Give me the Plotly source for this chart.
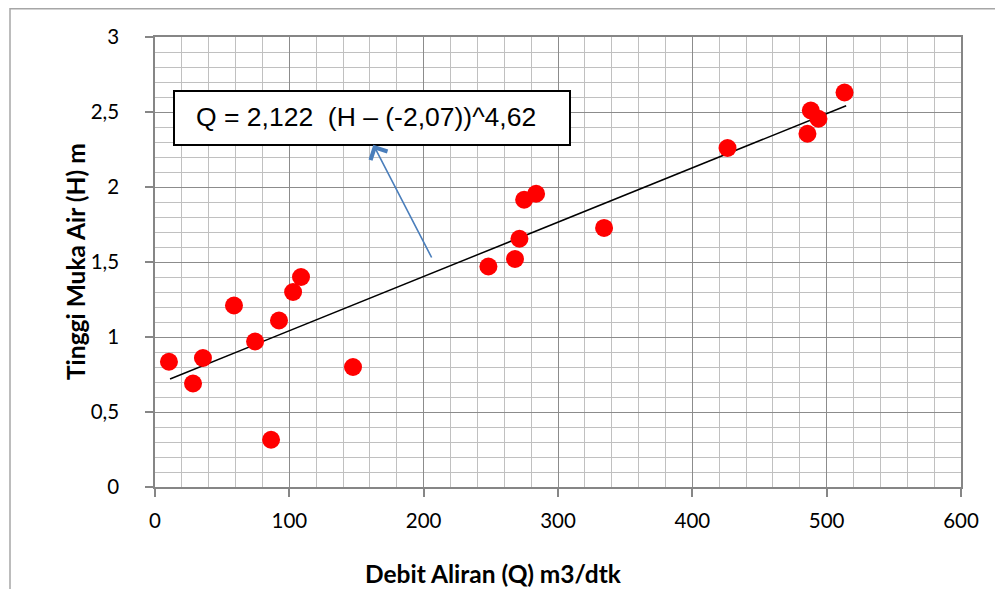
import plotly.graph_objects as go

# Data
debit_q = [10.4, 28.3, 35.7, 58.8, 74.5, 86.4, 92.3, 102.8, 108.7, 147.4,
           248.2, 268.0, 271.3, 274.8, 283.7, 334.3, 426.2, 485.7, 488.2, 493.9, 513.3]
tinggi_h = [0.835, 0.69, 0.86, 1.21, 0.97, 0.315, 1.11, 1.30, 1.40, 0.80,
            1.47, 1.52, 1.655, 1.915, 1.955, 1.727, 2.26, 2.355, 2.51, 2.455, 2.63]

trend_x = [11.2, 514.5]
trend_y = [0.72, 2.542]

x_ticks = [0, 100, 200, 300, 400, 500, 600]
y_ticks = [0, 0.5, 1, 1.5, 2, 2.5, 3]

equation_text = "Q = 2,122  (H – (-2,07))^4,62"
x_title = "Debit Aliran (Q) m3/dtk"
y_title = "Tinggi Muka Air (H) m"

arrow_head = (162.5, 2.282)
arrow_tail = (206.5, 1.52)

fig = go.Figure()
fig.add_trace(go.Scatter(x=trend_x, y=trend_y, mode="lines",
                         line=dict(color="black", width=1.5), showlegend=False,
                         hoverinfo="skip"))
fig.add_trace(go.Scatter(x=debit_q, y=tinggi_h, mode="markers",
                         marker=dict(color="#ff0000", size=18, line=dict(width=0)),
                         showlegend=False))

grid_major = "#8c8c8c"
grid_minor = "#c0c0c0"
axis_col = "#868686"
tick_font = dict(family="Lato", size=20.5, color="black")

fig.update_xaxes(range=[0, 600], tickvals=x_ticks, showgrid=True, gridcolor=grid_major,
                 gridwidth=1, zeroline=False, showline=True, linecolor=axis_col,
                 linewidth=1.5, mirror=True, ticks="outside", ticklen=8,
                 tickcolor=axis_col, tickwidth=1.5, tickfont=tick_font,
                 ticklabelstandoff=7,
                 minor=dict(dtick=20, showgrid=True, gridcolor=grid_minor, gridwidth=1))
fig.update_yaxes(range=[0, 3], tickvals=y_ticks, showgrid=True, gridcolor=grid_major,
                 gridwidth=1, zeroline=False, showline=True, linecolor=axis_col,
                 linewidth=1.5, mirror=True, ticks="outside", ticklen=8,
                 tickcolor=axis_col, tickwidth=1.5, tickfont=tick_font,
                 ticklabelstandoff=22,
                 minor=dict(dtick=0.1, showgrid=True, gridcolor=grid_minor, gridwidth=1))

# equation box
fig.add_shape(type="rect", xref="paper", yref="paper",
              x0=(174 - 155) / 806, x1=(570 - 155) / 806,
              y0=(487 - 145) / 450, y1=(487 - 91) / 450,
              fillcolor="white", line=dict(color="black", width=2), layer="above")
fig.add_annotation(xref="paper", yref="paper", x=(365.5 - 155) / 806, y=(487 - 117) / 450,
                   text=equation_text, showarrow=False, xanchor="center", yanchor="middle",
                   font=dict(family="Liberation Sans", size=26.5, color="black"))
# arrow
fig.add_annotation(x=arrow_head[0], y=arrow_head[1], ax=arrow_tail[0], ay=arrow_tail[1],
                   xref="x", yref="y", axref="x", ayref="y", text="",
                   showarrow=True, arrowhead=4, arrowsize=2.3, arrowwidth=1.6,
                   arrowcolor="#4a7ebb")
# axis titles
fig.add_annotation(xref="paper", yref="paper", x=(493 - 155) / 806, y=(487 - 573) / 450,
                   text="<b>" + x_title + "</b>", showarrow=False,
                   xanchor="center", yanchor="middle",
                   font=dict(family="Lato", size=24.5, color="black"))
fig.add_annotation(xref="paper", yref="paper", x=(75 - 155) / 806, y=0.5,
                   text="<b>" + y_title + "</b>", showarrow=False, textangle=-90,
                   xanchor="center", yanchor="middle",
                   font=dict(family="Lato", size=24.5, color="black"))
# outer chart border
fig.add_shape(type="rect", xref="paper", yref="paper",
              x0=(10 - 155) / 806, x1=(1030 - 155) / 806,
              y0=(487 - 630) / 450, y1=(487 - 8.8) / 450,
              line=dict(color="#a6a6a6", width=1.5), fillcolor="rgba(0,0,0,0)",
              layer="below")

# page body has an 8px margin, so the figure is offset by 8px in the window
fig.update_layout(width=995, height=581, margin=dict(l=147, r=42, t=29, b=102),
                  paper_bgcolor="white", plot_bgcolor="white", separators=",.",
                  showlegend=False)

fig.write_html("out.html")
